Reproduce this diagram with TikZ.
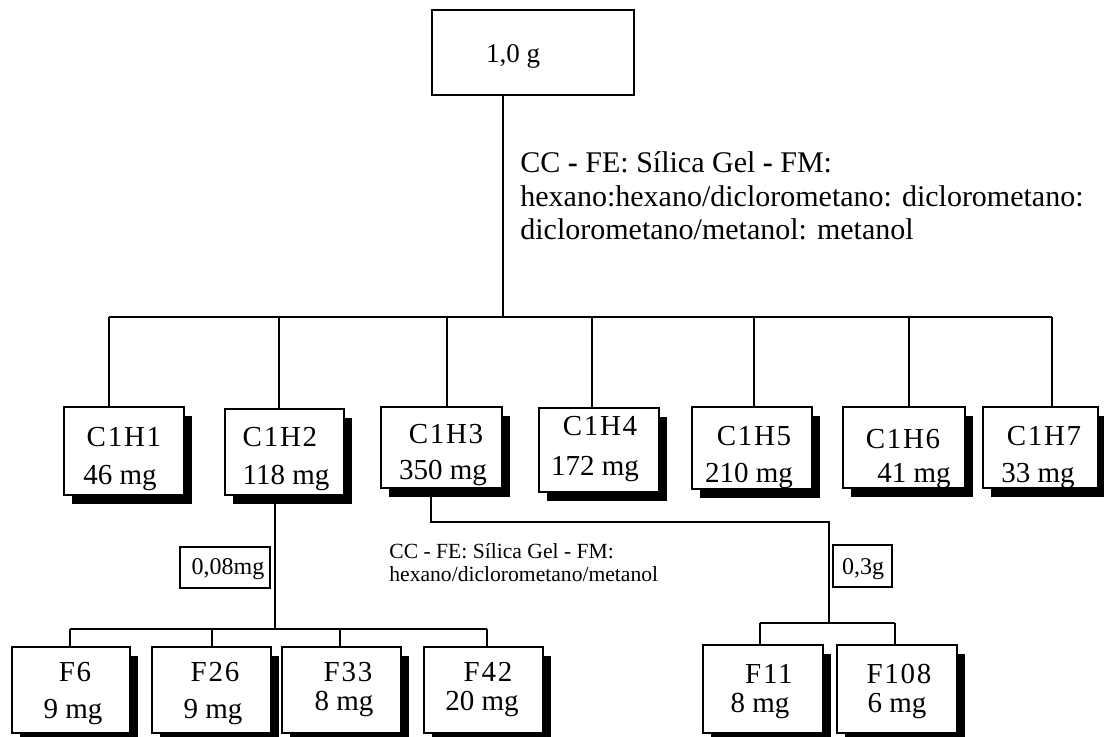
\documentclass[tikz,border=0pt]{standalone}
\usepackage{fontspec}
\setmainfont{Liberation Serif}
\newfontfamily\namefont[LetterSpace=6]{Liberation Serif}
\usetikzlibrary{shadows}
\begin{document}
\begin{tikzpicture}[x=0.5pt,y=-0.5pt,
  box/.style={draw, line width=1pt, fill=white, inner sep=0pt},
  shbox/.style={box, general shadow={fill=black, shadow xshift=4pt, shadow yshift=-4.5pt}},
  big/.style={inner sep=0pt, font=\fontsize{14.5}{16}\selectfont},
  namelbl/.style={inner sep=0pt, font=\namefont\fontsize{14.5}{16}\selectfont},
  mid/.style={inner sep=0pt, font=\fontsize{12}{14}\selectfont},
  note/.style={inner sep=0pt, anchor=base west, font=\fontsize{15}{16.5}\selectfont},
  smallnote/.style={inner sep=0pt, anchor=base west, font=\fontsize{10.8}{12}\selectfont},
  ln/.style={line width=0.75pt},
]
\useasboundingbox (0,0) rectangle (1104,736);

% top box
\node[box, minimum width=101pt, minimum height=42.5pt] (top) at (533,52.5) {};
\node[inner sep=0pt, font=\fontsize{13.5}{15}\selectfont] (toplbl) at (513,56) {1,0 g};

% first-level boxes
\node[shbox, minimum width=60pt, minimum height=44pt] (c1) at (124,451) {};
\node[shbox, minimum width=59.5pt, minimum height=43pt] (c2) at (284.5,452) {};
\node[shbox, minimum width=60.5pt, minimum height=40.5pt] (c3) at (441.5,447.5) {};
\node[shbox, minimum width=60pt, minimum height=42pt] (c4) at (599,450) {};
\node[shbox, minimum width=60pt, minimum height=41pt] (c5) at (752,448) {};
\node[shbox, minimum width=61pt, minimum height=40.5pt] (c6) at (904,447.5) {};
\node[shbox, minimum width=57.5pt, minimum height=40.5pt] (c7) at (1040.5,447.5) {};

\node[namelbl] (c1a) at (124,437) {C1H1};
\node[big] (c1b) at (120,478) {46 mg};
\node[namelbl] (c2a) at (280,437) {C1H2};
\node[big] (c2b) at (286,478) {118 mg};
\node[namelbl] (c3a) at (446,434) {C1H3};
\node[big] (c3b) at (443,473) {350 mg};
\node[namelbl] (c4a) at (600,426) {C1H4};
\node[big] (c4b) at (595,469) {172 mg};
\node[namelbl] (c5a) at (754,436) {C1H5};
\node[big] (c5b) at (749,476) {210 mg};
\node[namelbl] (c6a) at (903,439) {C1H6};
\node[big] (c6b) at (914,476) {41 mg};
\node[namelbl] (c7a) at (1044,436) {C1H7};
\node[big] (c7b) at (1038,476) {33 mg};

% second-level boxes
\node[shbox, minimum width=59pt, minimum height=43pt] (f6) at (71,690) {};
\node[shbox, minimum width=59.5pt, minimum height=43pt] (f26) at (211.5,690) {};
\node[shbox, minimum width=59.5pt, minimum height=43pt] (f33) at (341.5,690) {};
\node[shbox, minimum width=59.5pt, minimum height=43pt] (f42) at (483.5,690) {};
\node[shbox, minimum width=60pt, minimum height=44pt] (f11) at (763,689) {};
\node[shbox, minimum width=60pt, minimum height=44pt] (f108) at (897,689) {};

\node[namelbl] (f6a) at (75,672) {F6};
\node[big] (f6b) at (73,712) {9 mg};
\node[namelbl] (f26a) at (215,672) {F26};
\node[big] (f26b) at (213,712) {9 mg};
\node[namelbl] (f33a) at (348,672) {F33};
\node[big] (f33b) at (344,704) {8 mg};
\node[namelbl] (f42a) at (488,672) {F42};
\node[big] (f42b) at (482,704) {20 mg};
\node[namelbl] (f11a) at (769,674) {F11};
\node[big] (f11b) at (760,706) {8 mg};
\node[namelbl] (f108a) at (899,674) {F108};
\node[big] (f108b) at (897,706) {6 mg};

% mass boxes
\node[box, minimum width=45pt, minimum height=20.5pt] (m1) at (225,567.5) {};
\node[mid] (m1t) at (228,569) {0,08mg};
\node[box, minimum width=29.5pt, minimum height=21pt] (m2) at (862.5,566) {};
\node[mid] (m2t) at (863,569) {0,3g};

% notes
\node[note] (n1) at (520,172) {CC \textbf{-} FE: Sílica Gel \textbf{-} FM:};
\node[note] (n2) at (520,206) {hexano:hexano/diclorometano: diclorometano:};
\node[note] (n3) at (520,239) {diclorometano/metanol: metanol};
\node[smallnote] (s1) at (389,558) {CC - FE: Sílica Gel - FM:};
\node[smallnote] (s2) at (389,581) {hexano/diclorometano/metanol};

% main tree connectors
\coordinate (tj) at (503,317);
\coordinate (b1) at (109,317);
\coordinate (b2) at (279,317);
\coordinate (b3) at (447,317);
\coordinate (b4) at (592,317);
\coordinate (b5) at (754,317);
\coordinate (b6) at (909,317);
\coordinate (b7) at (1052,317);
\draw[ln] (tj |- top.south) -- (tj);
\draw[ln] (b1) -- (b7);
\draw[ln] (b1) -- (b1 |- c1.north);
\draw[ln] (b2) -- (b2 |- c2.north);
\draw[ln] (b3) -- (b3 |- c3.north);
\draw[ln] (b4) -- (b4 |- c4.north);
\draw[ln] (b5) -- (b5 |- c5.north);
\draw[ln] (b6) -- (b6 |- c6.north);
\draw[ln] (b7) -- (b7 |- c7.north);

% C1H2 branch
\coordinate (fj) at (275,629);
\coordinate (d1) at (70,629);
\coordinate (d2) at (212,629);
\coordinate (d3) at (340,629);
\coordinate (d4) at (487,629);
\draw[ln] (fj |- c2.south) -- (fj);
\draw[ln] (d1) -- (d4);
\draw[ln] (d1) -- (d1 |- f6.north);
\draw[ln] (d2) -- (d2 |- f26.north);
\draw[ln] (d3) -- (d3 |- f33.north);
\draw[ln] (d4) -- (d4 |- f42.north);

% C1H3 branch
\coordinate (gj) at (431,522);
\coordinate (gk) at (829,623);
\coordinate (e1) at (760,623);
\coordinate (e2) at (895,623);
\draw[ln] (gj |- c3.south) -- (gj) -| (gk);
\draw[ln] (e1) -- (e2);
\draw[ln] (e1) -- (e1 |- f11.north);
\draw[ln] (e2) -- (e2 |- f108.north);
\end{tikzpicture}
\end{document}
